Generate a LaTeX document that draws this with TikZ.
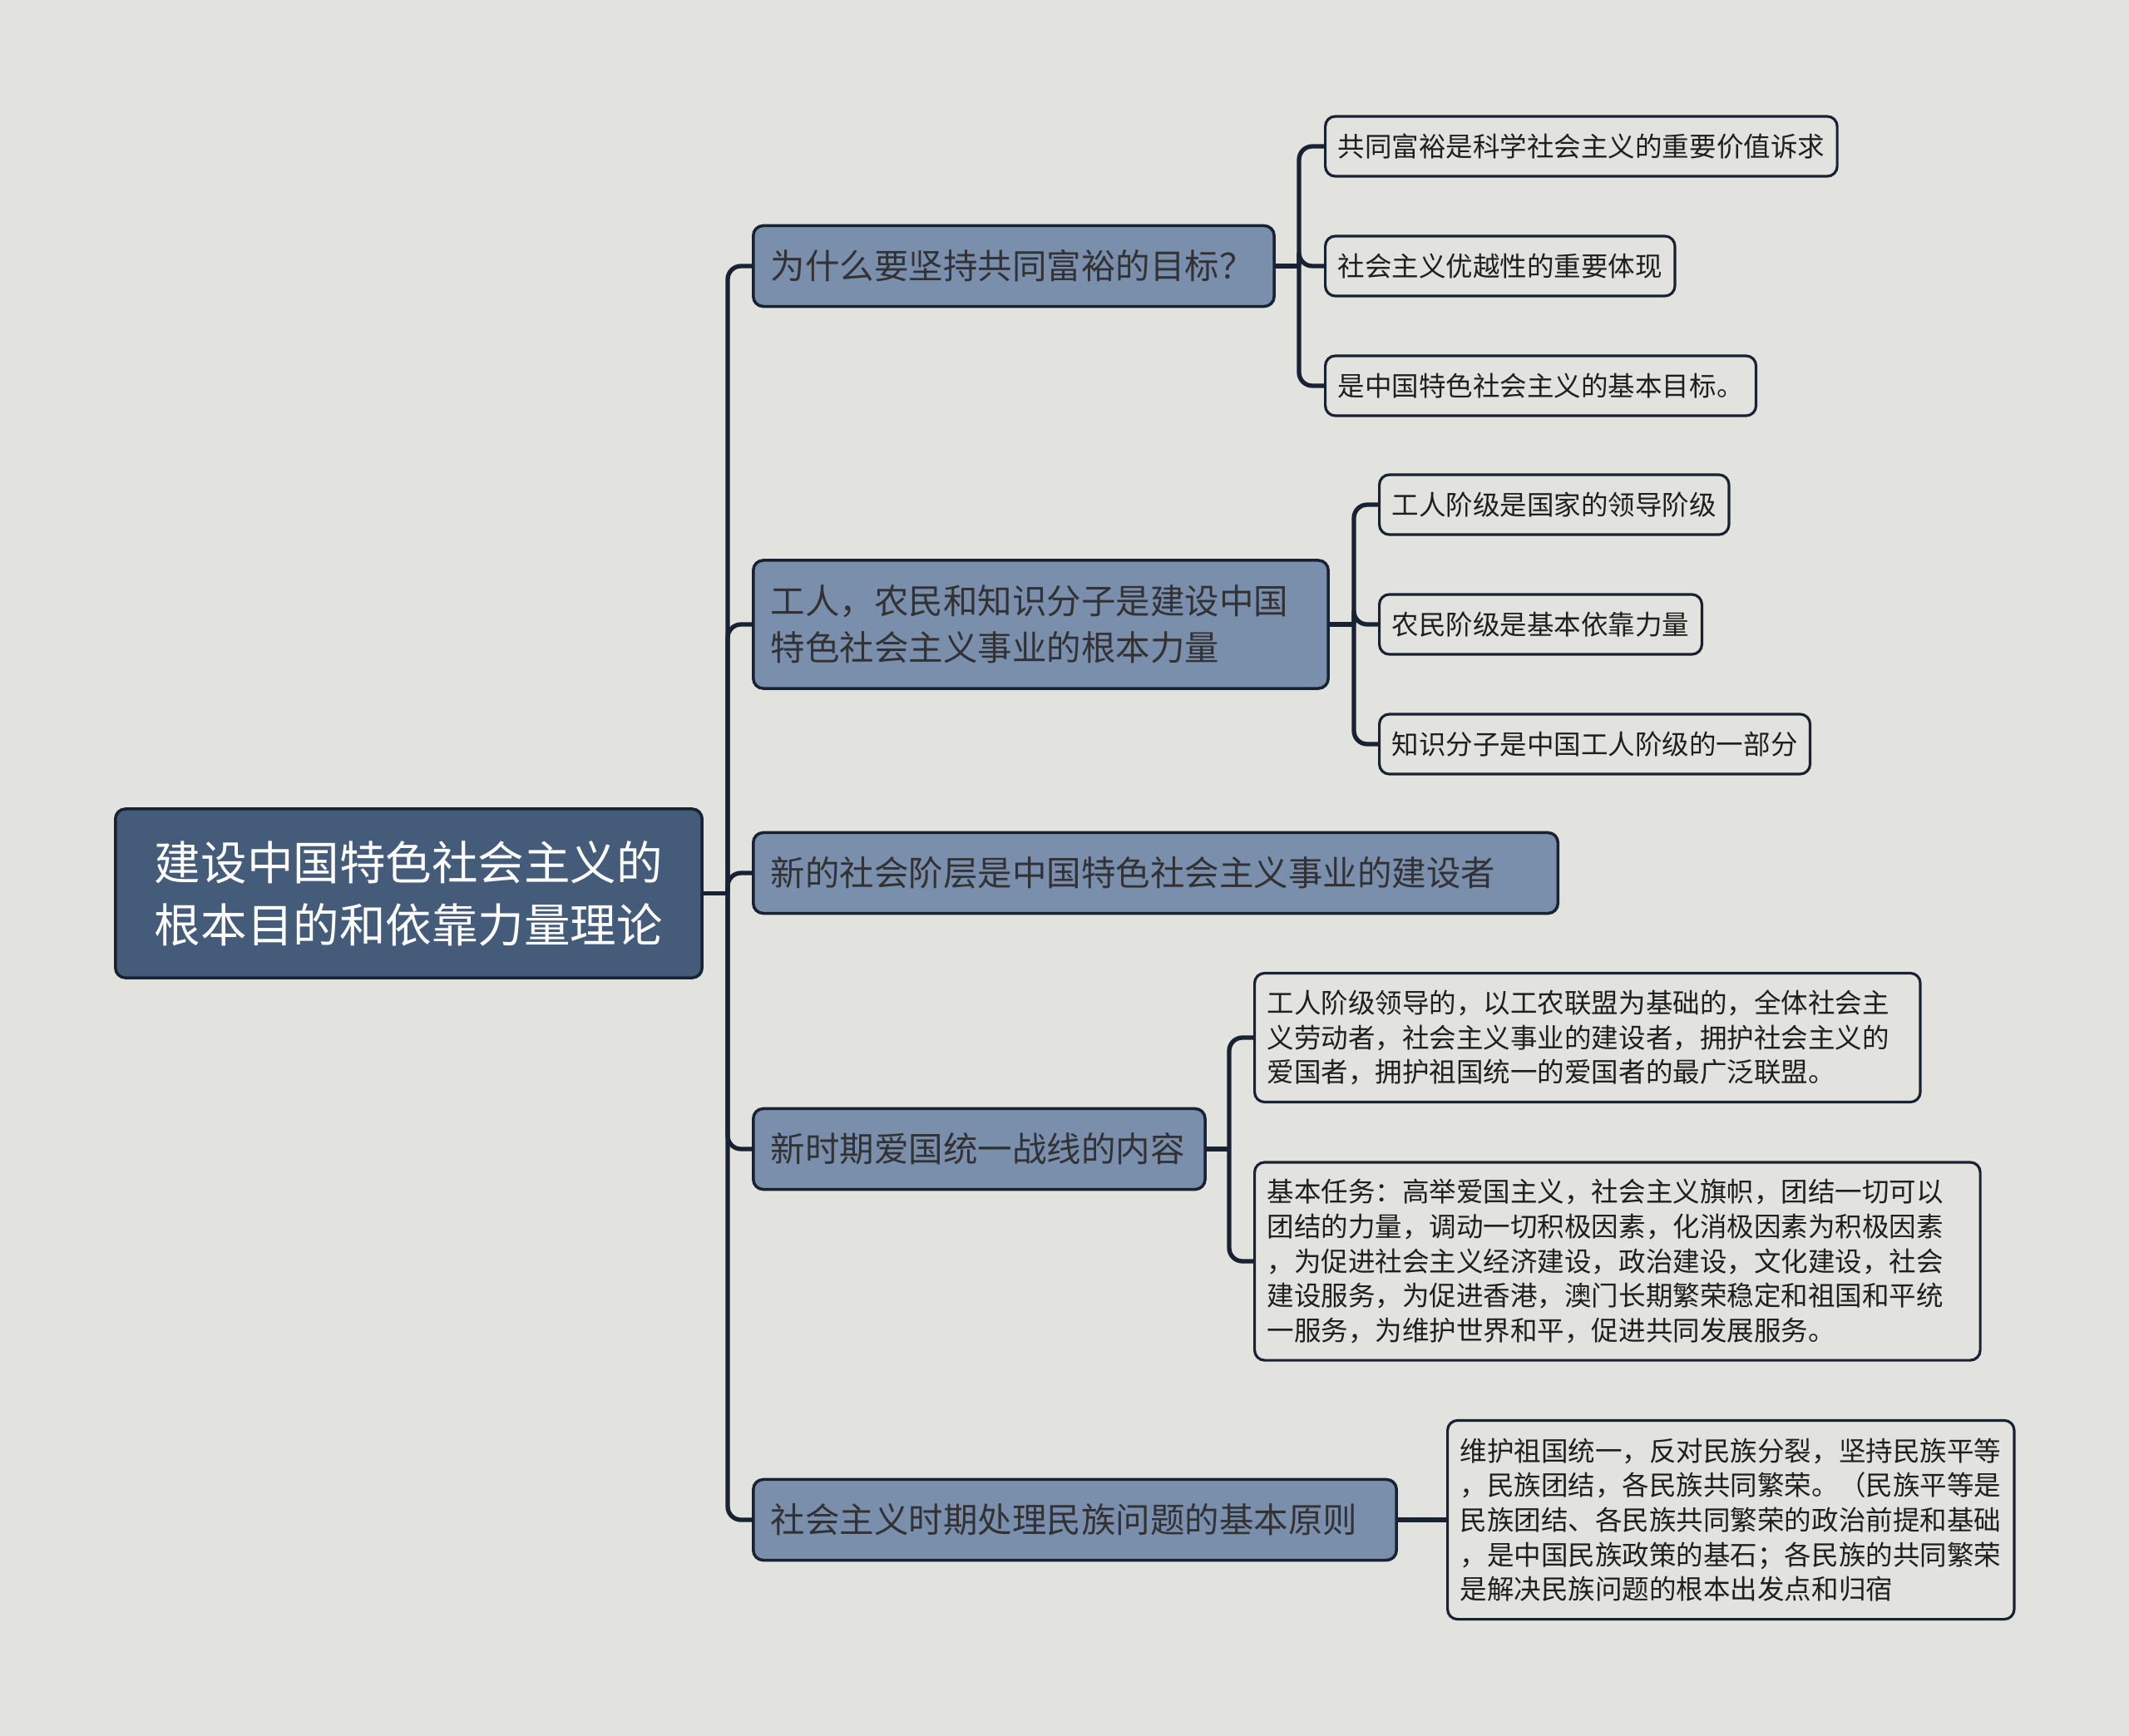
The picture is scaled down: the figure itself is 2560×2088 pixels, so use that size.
\documentclass[tikz,border=0pt]{standalone}
\usepackage{fontspec}
\newfontfamily\cjk{Noto Sans CJK SC}
\usepackage{tikz}
\usetikzlibrary{positioning}
\definecolor{canvas}{RGB}{226,226,222}
\definecolor{rootblue}{RGB}{68,91,122}
\definecolor{topicblue}{RGB}{122,143,172}
\definecolor{linenavy}{RGB}{24,34,50}
\definecolor{inkgray}{RGB}{50,50,52}

\begin{document}
\begin{tikzpicture}[
  x=0.01cm, y=-0.01cm,
  rootbox/.style={rectangle, draw=linenavy, line width=1pt, rounded corners=0.12cm, fill=rootblue, text=white, font=\cjk\fontsize{15.8}{21.3}\selectfont, align=center, minimum width=7.05cm, minimum height=2.03cm},
  topic/.style={rectangle, draw=linenavy, line width=1pt, rounded corners=0.12cm, fill=topicblue, text=inkgray, font=\cjk\fontsize{11.8}{15.8}\selectfont, align=left, inner xsep=0.21cm, text width=#1, minimum height=0.97cm, anchor=west},
  leaf/.style={rectangle, draw=linenavy, line width=0.9pt, rounded corners=0.12cm, fill=canvas, text=black!88, font=\cjk\fontsize{9.25}{11.84}\selectfont, align=left, inner xsep=0.15cm, minimum height=0.72cm, anchor=west},
  link/.style={draw=linenavy, line width=1.5pt, rounded corners=0.16cm}
]
  % canvas
  \fill[canvas] (0,0) rectangle (2560,2088);

  \node[rootbox] (root) at (491.5,1074.5) {建设中国特色社会主义的\\根本目的和依靠力量理论};

  % first level
  \node[topic=5.84cm] (goal) at (904,320) {为什么要坚持共同富裕的目标？};
  \node[topic=6.49cm, minimum height=1.54cm] (forces) at (904,751) {工人，农民和知识分子是建设中国\\特色社会主义事业的根本力量};
  \node[topic=9.25cm] (stratum) at (904,1050) {新的社会阶层是中国特色社会主义事业的建设者};
  \node[topic=5.01cm] (front) at (904,1382) {新时期爱国统一战线的内容};
  \node[topic=7.31cm] (ethnic) at (904,1828) {社会主义时期处理民族问题的基本原则};

  % second level
  \node[leaf] (goalval) at (1592,176) {共同富裕是科学社会主义的重要价值诉求};
  \node[leaf] (goalsup) at (1592,320) {社会主义优越性的重要体现};
  \node[leaf] (goalaim) at (1592,464) {是中国特色社会主义的基本目标。};

  \node[leaf] (workers) at (1657,607) {工人阶级是国家的领导阶级};
  \node[leaf] (peasants) at (1657,751) {农民阶级是基本依靠力量};
  \node[leaf] (intel) at (1657,895) {知识分子是中国工人阶级的一部分};

  \node[leaf, text width=7.70cm, minimum height=1.55cm] (frontdef) at (1507,1248) {工人阶级领导的，以工农联盟为基础的，全体社会主\\义劳动者，社会主义事业的建设者，拥护社会主义的\\爱国者，拥护祖国统一的爱国者的最广泛联盟。};
  \node[leaf, text width=8.42cm, minimum height=2.38cm] (fronttask) at (1507,1517) {基本任务：高举爱国主义，社会主义旗帜，团结一切可以\\团结的力量，调动一切积极因素，化消极因素为积极因素\\，为促进社会主义经济建设，政治建设，文化建设，社会\\建设服务，为促进香港，澳门长期繁荣稳定和祖国和平统\\一服务，为维护世界和平，促进共同发展服务。};

  \node[leaf, text width=6.51cm, minimum height=2.39cm] (ethnicrule) at (1739,1828) {维护祖国统一，反对民族分裂，坚持民族平等\\，民族团结，各民族共同繁荣。（民族平等是\\民族团结、各民族共同繁荣的政治前提和基础\\，是中国民族政策的基石；各民族的共同繁荣\\是解决民族问题的根本出发点和归宿};

  % connectors
  \coordinate (rootfork) at (875,1074.5);
  \draw[link] (root.east) -- (rootfork);
  \foreach \t in {goal,forces,stratum,front,ethnic}
    \draw[link] (rootfork) |- (\t.west);

  \coordinate (goalfork) at (1562,320);
  \draw[link] (goal.east) -- (goalfork);
  \foreach \t in {goalval,goalsup,goalaim}
    \draw[link] (goalfork) |- (\t.west);

  \coordinate (forcesfork) at (1628,751);
  \draw[link] (forces.east) -- (forcesfork);
  \foreach \t in {workers,peasants,intel}
    \draw[link] (forcesfork) |- (\t.west);

  \coordinate (frontfork) at (1478,1382);
  \draw[link] (front.east) -- (frontfork);
  \foreach \t in {frontdef,fronttask}
    \draw[link] (frontfork) |- (\t.west);

  \draw[link] (ethnic.east) -- (ethnicrule.west);
\end{tikzpicture}
\end{document}
